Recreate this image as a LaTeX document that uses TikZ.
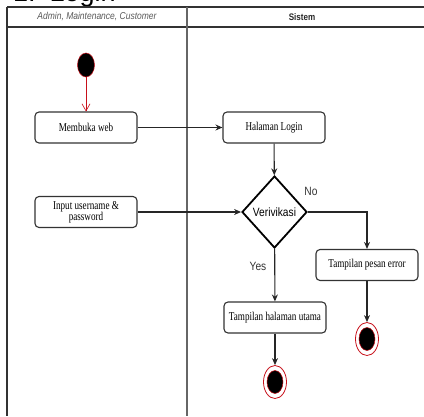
\documentclass[tikz,border=0pt]{standalone}
\usepackage{fontspec}
\setmainfont{Liberation Serif}[FakeStretch=0.76]
\newfontfamily\lanefont{Liberation Sans}[FakeStretch=0.85]
\newfontfamily\titlefont{Liberation Sans}
\usetikzlibrary{arrows.meta,shapes.geometric}

\definecolor{rim}{HTML}{C8101A}
\definecolor{frame}{HTML}{333333}

\tikzset{
  action/.style={draw=black!80, line width=1.1pt, rounded corners=4pt,
    minimum width=102pt, minimum height=31pt, inner sep=2pt, align=center,
    font=\fontsize{12}{12}\selectfont, fill=white},
  decision/.style={diamond, draw=black, line width=1.8pt, inner sep=0pt,
    minimum width=65pt, minimum height=72pt, font=\lanefont\fontsize{12}{12}\selectfont},
  startnode/.style={ellipse, fill=black, draw=rim, line width=0.5pt,
    minimum width=17pt, minimum height=24pt, inner sep=0pt},
  endouter/.style={ellipse, fill=white, draw=rim, line width=0.8pt,
    minimum width=23pt, minimum height=33pt, inner sep=0pt},
  endinner/.style={ellipse, fill=black, draw=rim, line width=0.5pt,
    minimum width=16pt, minimum height=23pt, inner sep=0pt},
  flow/.style={draw=black!85, line width=1.1pt, -{Stealth[length=7pt,width=6pt]}},
  startflow/.style={draw=rim, line width=0.6pt, -{Straight Barb[length=7pt,width=8pt]}},
  lane/.style={line width=1.6pt, draw=frame},
  tag/.style={font=\lanefont\fontsize{12}{12}\selectfont, text=black!80}
}

\begin{document}
\begin{tikzpicture}[x=1pt,y=-1pt]
  \useasboundingbox (0,0) rectangle (424,416);
  \clip (0,0) rectangle (424,416);

  % heading above the swimlanes (its upper part runs off the top)
  \node[anchor=base west, inner sep=0pt, font=\titlefont\fontsize{27}{27}\selectfont]
    (heading) at (13,1.5) {1.\hspace{14pt}Login};

  % swimlane frame
  \draw[lane] (7,7) -- (424,7);
  \draw[lane] (7,27) -- (424,27);
  \draw[lane] (7,7) -- (7,416);
  \draw[lane, draw=black!60] (187,7) -- (187,416);

  \node[font=\lanefont\itshape\fontsize{10}{10}\selectfont, text=black!65]
    (laneA) at (97,17) {Admin, Maintenance, Customer};
  \node[font=\lanefont\bfseries\fontsize{9.5}{9.5}\selectfont, text=black!85]
    (laneB) at (302,17) {Sistem};

  % activities
  \node[startnode] (start) at (86,65) {};
  \node[action] (web) at (86,127.5) {Membuka web};
  \node[action] (input) at (86,212) {Input username \&\\[-1pt] password};
  \node[action] (login) at (274,127.5) {Halaman Login};
  \node[decision] (verif) at (274.5,212) {Verivikasi};
  \node[action] (err) at (367,265) {Tampilan pesan error};
  \node[action] (main) at (275,317.5) {Tampilan halaman utama};

  \node[endouter] (endErr) at (367,339) {};
  \node[endinner] at (endErr) {};
  \node[endouter] (endMain) at (275,382) {};
  \node[endinner] at (endMain) {};

  % guard labels
  \node[tag] (no) at (311,191) {No};
  \node[tag] (yes) at (258,266) {Yes};

  % control flow
  \draw[startflow] (start) -- (web);
  \draw[flow] (web) -- (login);
  \draw[flow] (input) -- (verif.west);
  \draw[flow] (login) -- (verif);
  \draw[flow] (verif.east) -| (err);
  \draw[flow] (verif) -- (main);
  \draw[flow] (err) -- (endErr);
  \draw[flow] (main) -- (endMain);
\end{tikzpicture}
\end{document}
